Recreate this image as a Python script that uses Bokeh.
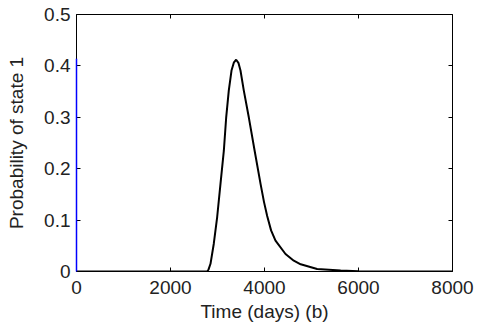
from bokeh.plotting import figure
from bokeh.models import LinearAxis, FixedTicker, Range1d
from bokeh.embed import file_html
from bokeh.resources import INLINE

# data
time_days = [0, 2500, 2780, 2810, 2851, 2921, 2993, 3064, 3135, 3185, 3240, 3298, 3350,
             3397, 3445, 3489, 3560, 3666, 3790, 3915, 3990, 4057, 4140, 4234, 4447, 4623, 4770,
             5120, 5620, 6000, 8000]
prob_state1 = [0, 0, 0, 0.004, 0.015, 0.054, 0.106, 0.171, 0.235, 0.300, 0.352, 0.391, 0.407,
               0.412, 0.406, 0.391, 0.352, 0.300, 0.235, 0.171, 0.135, 0.108, 0.080, 0.060, 0.034, 0.021,
               0.014, 0.005, 0.002, 0.0005, 0]
blue_t = [0, 0]
blue_p = [0, 0.414]

x_ticks = [0, 2000, 4000, 6000, 8000]
x_tick_labels = ["0", "2000", "4000", "6000", "8000"]
y_ticks = [0, 0.1, 0.2, 0.3, 0.4, 0.5]
y_tick_labels = ["0", "0.1", "0.2", "0.3", "0.4", "0.5"]

FONT = "Liberation Sans"
TXT = "#222222"

p = figure(width=478, height=327, output_backend="svg", toolbar_location=None,
           x_range=Range1d(0, 8000), y_range=Range1d(0, 0.5),
           min_border_left=76, min_border_right=26, min_border_top=14, min_border_bottom=56,
           x_axis_label="Time (days) (b)", y_axis_label="Probability of state 1")
p.grid.visible = False
p.outline_line_color = None
p.background_fill_color = "white"

def style(ax, ticks, labels, show):
    ax.ticker = FixedTicker(ticks=ticks)
    ax.major_tick_in = 4
    ax.major_tick_out = 0
    ax.minor_tick_in = 0
    ax.minor_tick_out = 0
    ax.axis_line_color = "black"
    ax.axis_line_width = 1
    ax.major_tick_line_color = "black"
    if show:
        ax.major_label_overrides = {t: l for t, l in zip(ticks, labels)}
        ax.major_label_text_font = FONT
        ax.major_label_text_font_size = "19px"
        ax.major_label_text_color = TXT
        ax.axis_label_text_font = FONT
        ax.axis_label_text_font_size = "19px"
        ax.axis_label_text_font_style = "normal"
        ax.axis_label_text_color = TXT
    else:
        ax.major_label_overrides = {t: "" for t in ticks}
        ax.major_label_standoff = 0

style(p.xaxis[0], x_ticks, x_tick_labels, True)
style(p.yaxis[0], y_ticks, y_tick_labels, True)
p.xaxis[0].major_label_standoff = 9
p.xaxis[0].axis_label_standoff = 4
p.yaxis[0].major_label_standoff = 6
p.yaxis[0].axis_label_standoff = 14

top = LinearAxis()
style(top, x_ticks, x_tick_labels, False)
p.add_layout(top, "above")
right = LinearAxis()
style(right, y_ticks, y_tick_labels, False)
p.add_layout(right, "right")

p.line(time_days, prob_state1, line_color="black", line_width=2)
p.line(blue_t, blue_p, line_color="blue", line_width=1.5, level="overlay")

open("out.html", "w").write(file_html(p, INLINE))
